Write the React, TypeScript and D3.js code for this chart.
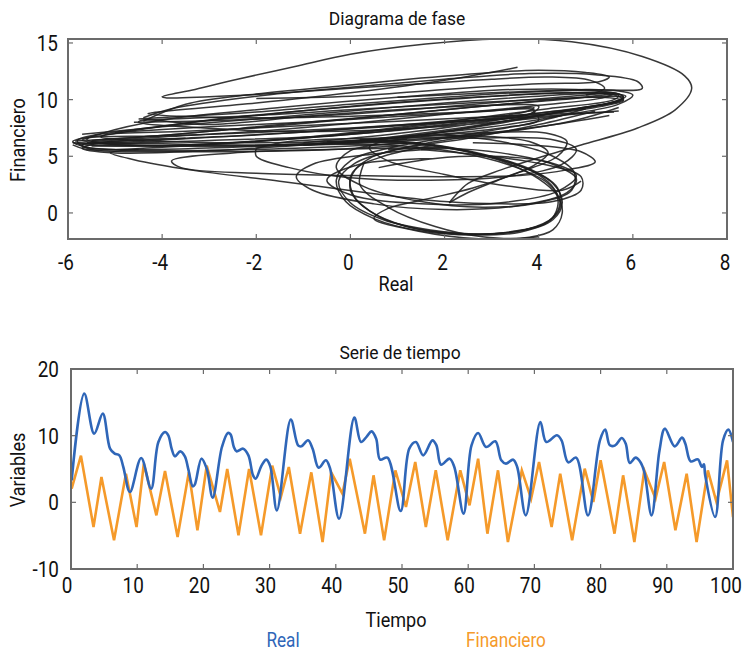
import React from 'react';
import * as d3 from 'd3';

const FONT = "Roboto, 'Noto Sans', sans-serif";

// ---------- Top chart: phase diagram (Real vs Financiero), traced loops ----------
const phaseXTicks = [-6, -4, -2, 0, 2, 4, 6, 8];
const phaseYTicks = [0, 5, 10, 15];

const outerLoop: [number, number][] = [
  [5.0, 10.4], [5.4, 11.0], [5.1, 11.7], [4.2, 12.0], [3.0, 11.8], [1.5, 11.4], [0, 11.0], [-1.4, 10.6],
  [-3.0, 10.25], [-3.9, 10.15], [-4.0, 10.25], [-3.3, 10.9], [-2.4, 11.8], [-1.2, 12.9], [0, 14.0],
  [1.6, 14.9], [3.1, 15.35], [4.7, 15.1], [6.2, 13.8], [7.1, 12.1], [7.25, 11.0], [6.9, 9.1], [6.1, 7.5],
  [4.9, 6.0], [4.1, 5.0], [3.2, 3.8], [2.5, 2.6], [2.2, 1.4], [2.1, 0.9],
];
const band1: [number, number][] = [
  [-1, 6.0], [1, 6.6], [3, 7.8], [4.8, 9.2], [5.8, 10.1], [5.7, 10.5], [4.5, 10.6], [2, 10.0], [-0.5, 9.2],
  [-3, 8.2], [-5, 7.0], [-5.9, 6.3], [-5.6, 5.8], [-4, 5.5], [-2, 5.6], [0, 5.9], [1.5, 6.2],
];
const band2: [number, number][] = [
  [0, 6.2], [2, 7.2], [4, 8.6], [5.6, 9.8], [5.85, 10.3], [5, 10.6], [3, 10.3], [0.5, 9.6], [-2, 8.6],
  [-4.5, 7.4], [-5.8, 6.4], [-5.7, 5.9], [-4.5, 5.6], [-2.5, 5.8], [-0.5, 6.1], [1.2, 6.5],
];
const band3: [number, number][] = [
  [0.5, 6.5], [2.5, 7.6], [4.5, 9.0], [5.7, 9.9], [5.8, 10.3], [5.2, 10.8], [3.5, 10.9], [1, 10.2],
  [-1.5, 9.3], [-4, 8.2], [-5.3, 7.0], [-5.6, 6.5], [-5.2, 6.1], [-3, 5.9], [-1, 6.1], [0.8, 6.6],
];
const band4: [number, number][] = [
  [3.55, 12.85], [2, 11.7], [0, 10.6], [-2, 9.7], [-4.2, 8.85], [-4.3, 8.75], [-3.5, 8.5], [-1.5, 8.4],
  [0.5, 8.6], [2.5, 8.9], [3.9, 9.1], [3.8, 8.7], [2, 8.0], [0, 7.4], [-2, 6.9], [-4.5, 6.3], [-5.7, 6.0],
  [-5.5, 5.6], [-3.5, 5.4], [-1, 5.5], [1, 5.9],
];
const band5: [number, number][] = [
  [-4.5, 8.3], [-2, 8.9], [0, 9.6], [2, 10.2], [4, 10.7], [5.6, 10.8], [6.0, 10.4], [5.7, 9.6], [4.5, 8.6],
  [3, 7.6], [1, 6.7], [-1, 6.0], [-3, 5.5], [-5, 5.3], [-5.7, 5.7], [-5.3, 6.2], [-3.5, 6.6],
];
const band6: [number, number][] = [
  [5.6, 8.9], [3.5, 8.6], [1, 8.1], [-1.5, 7.6], [-3.5, 7.2], [-5.2, 6.9], [-5.3, 6.7], [-4.5, 6.4],
  [-2.5, 6.2], [-0.5, 6.3], [1.5, 6.8], [3.2, 7.5], [4.0, 8.2], [3.9, 8.9],
];
const band7: [number, number][] = [
  [-1, 6.2], [1, 7.0], [2.8, 8.0], [3.9, 8.9], [4.0, 9.4], [3, 9.5], [1, 9.1], [-1, 8.5], [-3, 7.8],
  [-4.4, 8.2], [-4.5, 8.0], [-3.5, 7.6], [-1.5, 7.2], [0.5, 7.3], [2.5, 7.8], [4.5, 8.6],
];
const band8: [number, number][] = [
  [-5.7, 6.95], [-4, 7.6], [-2, 8.3], [0, 9.0], [2, 9.7], [4, 10.3], [5.5, 10.5], [5.8, 10.0], [5.0, 9.3],
  [3.5, 8.6], [1.5, 7.7], [-0.5, 6.8], [-2.5, 6.2], [-4.5, 5.9], [-5.8, 6.1], [-5.9, 6.25],
];
const band9: [number, number][] = [
  [-4.4, 8.2], [-2, 8.6], [0, 9.1], [2, 9.6], [4, 10.0], [5.3, 10.2], [5.8, 9.9], [5.2, 9.3], [3.5, 8.4],
  [1.5, 7.5], [-0.5, 6.8], [-3, 6.4], [-5.3, 6.1], [-5.8, 6.2],
];
const band10: [number, number][] = [
  [-5.5, 6.4], [-3.5, 7.0], [-1.5, 7.8], [0.5, 8.5], [2.5, 9.3], [4.5, 10.0], [5.7, 10.4], [5.6, 10.0],
  [4.2, 9.2], [2.5, 8.3], [0.5, 7.3], [-1.5, 6.5], [-3.5, 6.0], [-5.5, 5.9],
];
const band11: [number, number][] = [
  [-4.6, 8.0], [-2.5, 8.2], [-0.5, 8.6], [1.5, 9.2], [3.5, 9.9], [5, 10.4], [5.6, 10.6], [5.4, 10.2],
  [4, 9.5], [2, 8.7], [0, 7.9], [-2, 7.2], [-4, 6.7], [-5.5, 6.3],
];
const band12: [number, number][] = [
  [-5.0, 7.1], [-3, 7.6], [-1, 8.0], [1, 8.5], [3, 9.0], [3.9, 9.3], [3.7, 8.9], [2.5, 8.3], [0.5, 7.6],
  [-1.5, 7.0], [-3.5, 6.6], [-5.6, 6.2],
];
const band13: [number, number][] = [
  [5.7, 9.0], [4, 8.5], [2, 8.0], [0, 7.5], [-2, 7.1], [-4, 6.8], [-5.6, 6.6], [-5.7, 6.4], [-4, 6.1],
  [-2, 6.0], [0, 6.2], [2, 6.7], [4, 7.6], [5.5, 8.6],
];
const band14: [number, number][] = [
  [-5.9, 6.2], [-4.5, 6.0], [-3, 5.9], [-1, 6.0], [1, 6.3], [3, 7.0], [4.8, 8.2], [5.7, 9.3],
];
const band15: [number, number][] = [
  [-5.85, 6.35], [-4.8, 6.6], [-3, 7.2], [-1, 7.9], [1, 8.7], [3, 9.5], [5, 10.2], [5.8, 10.2],
  [5.5, 9.7], [4.2, 8.9], [2.2, 7.9], [0.2, 7.0], [-2, 6.3], [-4, 5.8], [-5.6, 5.6], [-5.9, 6.0],
];
const upper1: [number, number][] = [
  [-2, 10.1], [0, 10.3], [2, 10.9], [4, 11.4], [5.3, 11.6], [5.5, 12.0], [5, 12.4], [4, 12.6], [3, 12.4],
  [1.5, 11.9], [0, 11.3], [-2, 10.5], [-3.5, 9.6], [-4.4, 8.1],
];
const upper2: [number, number][] = [
  [1, 10.2], [3, 10.6], [5, 10.9], [6.2, 11.0], [6.1, 11.6], [5.2, 12.2], [3.8, 12.3], [2, 11.8], [0, 11.1],
  [-2, 10.3], [-3.8, 9.2], [-4.4, 8.4],
];
const lower1: [number, number][] = [
  [-1, 6.0], [0.8, 6.0], [2.2, 5.4], [3.4, 4.2], [4.2, 2.6], [4.45, 1.0], [4.3, -0.4], [3.7, -1.5],
  [2.8, -1.85], [1.7, -1.5], [0.7, -0.6], [0.0, 0.9], [-0.25, 2.8], [0.1, 4.4], [1.0, 5.6], [2.5, 6.6],
  [4.0, 7.8], [5.2, 9.0],
];
const lower2: [number, number][] = [
  [-0.5, 6.3], [1.0, 6.2], [2.4, 5.5], [3.5, 4.3], [4.3, 2.6], [4.5, 0.9], [4.3, -0.6], [3.6, -1.7],
  [2.6, -1.95], [1.5, -1.6], [0.5, -0.5], [-0.1, 1.0], [-0.3, 2.9], [0.0, 4.6], [0.9, 5.8], [2.3, 6.8],
  [3.8, 7.9], [5.0, 9.2],
];
const lower3: [number, number][] = [
  [0.2, 6.5], [1.6, 6.1], [2.8, 5.2], [3.8, 3.9], [4.4, 2.2], [4.45, 0.4], [4.1, -1.0], [3.3, -1.75],
  [2.2, -1.8], [1.2, -1.2], [0.4, 0.2], [0.0, 2.0], [0.1, 3.8], [0.7, 5.0], [1.8, 6.0],
];
const lower4: [number, number][] = [
  [0.3, 4.5], [0.2, 2.5], [0.8, 0.5], [1.8, -1.2], [2.8, -2.1], [3.8, -2.15], [4.3, -1.5], [4.5, 0],
  [4.4, 1.5], [4.0, 3.0], [3.2, 4.6], [2.0, 5.8],
];
const lower5: [number, number][] = [
  [0.6, 6.4], [1.9, 5.9], [3.0, 4.9], [3.9, 3.6], [4.35, 2.0], [4.4, 0.5], [4.2, -0.8], [3.5, -1.6],
  [2.5, -1.9], [1.4, -1.4], [0.6, -0.3], [0.1, 1.3], [0.0, 3.2], [0.4, 4.8], [1.3, 5.9], [2.8, 6.9],
];
const ell1: [number, number][] = [
  [2, 5.7], [0.5, 5.2], [-0.8, 4.3], [-1.15, 3.2], [-0.8, 2.0], [0.5, 0.8], [2, 0.3], [3.5, 0.6],
  [4.6, 1.8], [4.8, 3.0], [4.3, 4.3], [3.2, 5.3], [2, 5.7], [0.8, 5.6],
];
const ell2: [number, number][] = [
  [1.8, 4.8], [0.2, 4.3], [-0.5, 2.9], [0, 1.6], [1.5, 0.8], [3.2, 0.9], [4.4, 1.9], [4.8, 3.3],
  [4.2, 4.5], [3, 5], [1.8, 4.8], [0.6, 4.0],
];
const ell3: [number, number][] = [
  [-2, 5.7], [-1.3, 6.3], [0.5, 6.6], [2.5, 6.6], [4.25, 6.5], [4.8, 5.6], [4.5, 4.3], [3.5, 3.3],
  [2, 2.9], [0, 3.1], [-1.3, 4.0], [-2, 5.0], [-2, 5.7],
];
const ell4: [number, number][] = [
  [2, 5.8], [-0.5, 5.6], [-2.5, 5.3], [-3.8, 4.6], [-3.6, 4.0], [-2, 3.5], [0, 3.3], [2, 3.2], [3.6, 3.3],
  [4.6, 3.8], [5.2, 4.5], [4.9, 5.4], [3.8, 6.0], [2.6, 6.2],
];
const ell5: [number, number][] = [
  [-4.5, 5.6], [-5.1, 5.3], [-4.6, 4.7], [-3.4, 3.8], [-1.5, 2.8], [0.5, 1.7], [2.0, 1.0], [3.2, 0.8],
  [4.3, 1.0], [4.9, 2.0], [4.9, 3.2], [4.2, 4.2], [3, 5], [1.5, 5.6],
];
const ell6: [number, number][] = [
  [2.1, 0.9], [2.5, 1.8], [3.2, 3.0], [3.9, 4.2], [4.2, 5.3], [3.8, 6.3], [2.6, 6.8], [1.2, 6.6],
  [0.4, 5.8], [0.8, 4.6], [2.0, 3.4], [3.3, 2.4], [4.5, 2.0], [4.9, 2.8],
];
const ell7: [number, number][] = [
  [1.2, 6.2], [0.0, 5.5], [-0.3, 4.0], [0.3, 2.3], [1.5, 1.0], [2.8, 0.5], [4.0, 0.9], [4.7, 2.0],
  [4.75, 3.6], [4.2, 5.2], [3.2, 6.3], [2.0, 6.9],
];
const ell8: [number, number][] = [
  [1.5, 6.8], [3.0, 7.1], [4.15, 7.05], [4.6, 6.3], [4.4, 5.0], [3.6, 3.6], [2.6, 2.2], [1.6, 1.2],
  [0.8, 0.4], [0.5, -0.5], [1.2, -1.4], [2.4, -2.2], [3.4, -2.3], [4.0, -2.1],
];

const phasePaths = [
  outerLoop, band1, band2, band3, band4, band5, band6, band7, band8, band9, band10, band11, band12,
  band13, band14, band15, upper1, upper2, lower1, lower2, lower3, lower4, lower5,
  ell1, ell2, ell3, ell4, ell5, ell6, ell7, ell8,
];

// ---------- Bottom chart: time series ----------
const timeXTicks = [0, 10, 20, 30, 40, 50, 60, 70, 80, 90, 100];
const timeYTicks = [-10, 0, 10, 20];

const realT = [0.1, 2.0, 3.5, 4.8, 5.9, 6.6, 7.3, 7.9, 8.9, 10.6, 12.1, 13.2, 14.2, 14.7, 15.2, 15.7, 16.5, 17.2,
  17.7, 18.4, 18.7, 19.7, 20.5, 21.4, 22.8, 23.7, 24.1, 24.6, 25.0, 26.0, 26.8, 27.5, 27.9, 28.8, 29.5, 30.1,
  31.1, 33.2, 34.3, 34.8, 35.8, 36.5, 37.4, 38.5, 39.1, 40.5, 42.8, 43.8, 44.7, 45.4, 46.1, 46.7, 47.8, 49.8,
  51.1, 52.1, 53.2, 54.6, 55.2, 55.9, 57.2, 57.9, 59.3, 60.5, 61.5, 62.7, 64.1, 65.0, 65.7, 66.8, 67.4, 68.7,
  70.9, 71.8, 73.4, 74.1, 75.1, 76.3, 78.1, 79.9, 80.7, 81.4, 82.2, 83.2, 83.8, 84.4, 85.3, 86.0, 86.6, 87.7,
  88.9, 89.7, 91.2, 92.3, 92.8, 93.6, 94.7, 95.3, 95.6, 95.8, 97.3, 98.5, 99.3, 100];
const realV = [3.3, 16.3, 10.3, 13.3, 8.05, 7.3, 7.05, 5.3, 1.55, 6.65, 2.05, 9.05, 10.55, 10.05, 8.05, 6.9, 7.65,
  6.9, 5.05, 2.4, 2.65, 6.55, 5.05, 0.7, 8.3, 10.4, 10.2, 8.3, 7.65, 8.05, 7.05, 4.05, 3.55, 5.55, 6.4, 5.4,
  -1.2, 12.4, 8.55, 8.4, 9.3, 8.05, 5.2, 6.3, 5.2, -2.45, 12.7, 9.05, 9.9, 10.65, 9.55, 6.4, 6.7, -1.3,
  8.05, 9.05, 7.05, 9.3, 8.55, 5.65, 6.55, 5.3, -1.7, 8.55, 10.4, 8.3, 9.15, 6.3, 5.8, 6.4, 5.3, -1.95,
  12.05, 9.05, 10.05, 9.3, 6.0, 6.7, -1.95, 9.3, 10.9, 8.55, 8.55, 9.65, 8.8, 5.9, 6.7, 6.05, 4.55, -1.95,
  7.8, 11.05, 8.4, 9.7, 8.8, 6.15, 6.45, 5.3, 5.7, 4.05, -2.2, 9.3, 10.9, 9.05];

const finT = [0.1, 1.5, 3.4, 4.6, 6.5, 8.3, 9.9, 11.0, 12.9, 14.2, 16.1, 17.8, 19.1, 20.5, 22.5, 23.6, 25.3, 26.9,
  28.7, 30.4, 31.7, 32.9, 34.6, 36.3, 38.0, 39.3, 41.0, 42.1, 44.4, 45.7, 47.3, 49.0, 50.6, 52.0, 53.6, 55.1,
  56.9, 58.8, 60.2, 61.5, 62.9, 64.5, 66.0, 68.1, 69.5, 70.7, 72.6, 73.9, 75.7, 77.6, 78.9, 80.0, 82.1, 83.4,
  85.1, 86.6, 88.3, 89.6, 91.3, 93.0, 94.5, 96.2, 97.5, 99.1, 100];
const finV = [2.05, 7.0, -3.7, 3.8, -5.7, 4.3, -3.7, 5.8, -1.95, 4.7, -5.2, 4.5, -4.2, 5.5, -1.45, 5.0, -4.95, 5.0,
  -4.95, 5.5, 0.8, 5.3, -4.7, 4.5, -5.95, 4.5, 1.3, 6.55, -4.7, 4.05, -5.7, 4.8, -0.7, 6.05, -3.7, 4.8,
  -5.7, 4.8, -0.45, 6.55, -4.7, 4.8, -5.95, 4.8, 0.55, 6.05, -3.7, 4.3, -5.7, 5.05, 0.05, 6.3, -4.7, 4.05,
  -5.95, 4.8, 0.55, 6.05, -4.2, 4.3, -5.95, 4.8, 0.05, 6.3, -2.2];

const BLUE = '#2f66b8';
const ORANGE = '#f59a2a';
const AXIS = '#6b6b6b';

// condensed text helper (horizontal squeeze of Roboto)
function T({ x, y, size, anchor = 'middle', fill = '#111', sx = 0.86, rotate = false, children }: any) {
  const tr = `translate(${x},${y})${rotate ? ' rotate(-90)' : ''} scale(${sx},1)`;
  return (
    <text transform={tr} textAnchor={anchor} fontSize={size} fill={fill}>{children}</text>
  );
}

function Frame({ x, y, xTicks, yTicks, tickLen = 5 }: any) {
  const [x0, x1] = x.range();
  const [y0, y1] = y.range(); // y0 bottom, y1 top
  return (
    <g>
      {xTicks.map((t: number) => (
        <g key={'xt' + t}>
          <line x1={x(t)} x2={x(t)} y1={y0} y2={y0 - tickLen} stroke={AXIS} strokeWidth={1.2} />
          <line x1={x(t)} x2={x(t)} y1={y1} y2={y1 + tickLen} stroke={AXIS} strokeWidth={1.2} />
        </g>
      ))}
      {yTicks.map((t: number) => (
        <g key={'yt' + t}>
          <line x1={x0} x2={x0 + tickLen} y1={y(t)} y2={y(t)} stroke={AXIS} strokeWidth={1.2} />
          <line x1={x1} x2={x1 - tickLen} y1={y(t)} y2={y(t)} stroke={AXIS} strokeWidth={1.2} />
        </g>
      ))}
      <rect x={x0} y={y1} width={x1 - x0} height={y0 - y1} fill="none" stroke={AXIS} strokeWidth={2} />
    </g>
  );
}

export default function App() {
  // top chart
  const px = d3.scaleLinear().domain([-6, 8]).range([68, 727]);
  const py = d3.scaleLinear().domain([-2.3, 15.35]).range([239, 39]);
  const phaseLine = d3.line<[number, number]>()
    .x((d) => px(d[0]))
    .y((d) => py(d[1]))
    .curve(d3.curveCatmullRom.alpha(0.5));

  // bottom chart
  const tx = d3.scaleLinear().domain([0, 100]).range([71, 733]);
  const ty = d3.scaleLinear().domain([-10, 20]).range([569, 369]);
  const realData = realT.map((t, i) => [t, realV[i]] as [number, number]);
  const finData = finT.map((t, i) => [t, finV[i]] as [number, number]);
  const realLine = d3.line<[number, number]>()
    .x((d) => tx(d[0]))
    .y((d) => ty(d[1]))
    .curve(d3.curveCatmullRom.alpha(0.5));
  const finLine = d3.line<[number, number]>()
    .x((d) => tx(d[0]))
    .y((d) => ty(d[1]));

  const tickFont = 22;
  const labFont = 21;

  return (
    <svg width={742} height={653} style={{ position: 'absolute', left: 0, top: 0, background: '#fff' }}
      fontFamily={FONT}>
      <rect width={742} height={653} fill="#fff" />
      {/* ---------- Top chart ---------- */}
      <T x={397} y={25} size={19} sx={0.92}>Diagrama de fase</T>
      <clipPath id="clipTop">
        <rect x={68} y={39} width={659} height={200} />
      </clipPath>
      <g clipPath="url(#clipTop)">
        {phasePaths.map((p, i) => (
          <path key={i} d={phaseLine(p) || ''} fill="none" stroke="#1c1c1c" strokeWidth={1.5} strokeOpacity={0.88} />
        ))}
      </g>
      <Frame x={px} y={py} xTicks={phaseXTicks} yTicks={phaseYTicks} />
      {phaseXTicks.map((t) => (
        <T key={'pxl' + t} x={px(t) - 2} y={270} size={tickFont}>{String(t)}</T>
      ))}
      {phaseYTicks.map((t) => (
        <T key={'pyl' + t} x={58} y={py(t) + 8} size={tickFont} anchor="end">{String(t)}</T>
      ))}
      <T x={396} y={291} size={labFont}>Real</T>
      <T x={25} y={140} size={labFont} rotate>Financiero</T>

      {/* ---------- Bottom chart ---------- */}
      <T x={400} y={359} size={19} sx={0.92}>Serie de tiempo</T>
      <clipPath id="clipBot">
        <rect x={71} y={369} width={662} height={200} />
      </clipPath>
      <g clipPath="url(#clipBot)">
        <path d={finLine(finData) || ''} fill="none" stroke={ORANGE} strokeWidth={2.6} strokeLinejoin="miter" />
        <path d={realLine(realData) || ''} fill="none" stroke={BLUE} strokeWidth={2.6} strokeLinejoin="round" />
      </g>
      <Frame x={tx} y={ty} xTicks={timeXTicks} yTicks={timeYTicks} />
      {timeXTicks.map((t, i) => (
        i === timeXTicks.length - 1
          ? <T key={'txl' + t} x={742} y={593} size={tickFont} anchor="end">{String(t)}</T>
          : <T key={'txl' + t} x={tx(t) - 4} y={593} size={tickFont}>{String(t)}</T>
      ))}
      {timeYTicks.map((t) => (
        <T key={'tyl' + t} x={59} y={ty(t) + 8} size={tickFont} anchor="end">{String(t)}</T>
      ))}
      <T x={396} y={627} size={labFont}>Tiempo</T>
      <T x={25} y={470} size={labFont} rotate>Variables</T>
      <T x={283} y={647} size={20} fill={BLUE}>Real</T>
      <T x={506} y={647} size={20} fill={ORANGE}>Financiero</T>
    </svg>
  );
}
